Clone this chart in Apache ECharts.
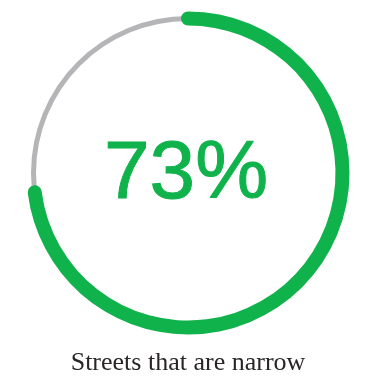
<!DOCTYPE html>
<html><head><meta charset="utf-8">
<script src="https://cdn.jsdelivr.net/npm/echarts@6/dist/echarts.min.js"></script>
<style>html,body{margin:0;padding:0;background:#fff}#c{width:366px;height:380px}</style>
</head><body><div id="c"></div>
<script>
const categories = ['Streets that are narrow'];
const percentValues = [73];
const chart = echarts.init(document.getElementById('c'), null, {renderer:'canvas'});
const green = '#10b24b', grey = '#b5b5b8';
chart.setOption({
  animation:false,
  series:[
    {type:'gauge', center:[188,173], radius:157, startAngle:90, endAngle:-270, min:0, max:100,
     axisLine:{lineStyle:{width:5, color:[[1,grey]]}},
     progress:{show:false}, pointer:{show:false}, axisTick:{show:false}, splitLine:{show:false},
     axisLabel:{show:false}, title:{show:false}, detail:{show:false},
     data:[{value:percentValues[0]}]},
    {type:'gauge', center:[188,173], radius:161.5, startAngle:90, endAngle:-270, min:0, max:100,
     axisLine:{show:false, lineStyle:{width:14, color:[[1,'rgba(0,0,0,0)']]}},
     progress:{show:true, width:14, roundCap:true, itemStyle:{color:green}},
     pointer:{show:false}, axisTick:{show:false}, splitLine:{show:false},
     axisLabel:{show:false}, title:{show:false},
     detail:{show:true, offsetCenter:[-2,2], valueAnimation:false, formatter:'{value}%',
       fontSize:82, fontWeight:'normal', fontFamily:'Liberation Sans', color:green,
       textBorderColor:green, textBorderWidth:1},
     data:[{value:percentValues[0]}]}
  ],
  graphic:[{type:'text', x:188, y:350,
    style:{text:categories[0], font:'26px "Liberation Serif"', fill:'#2a2627', align:'center', verticalAlign:'top'}}]
});
</script></body></html>
